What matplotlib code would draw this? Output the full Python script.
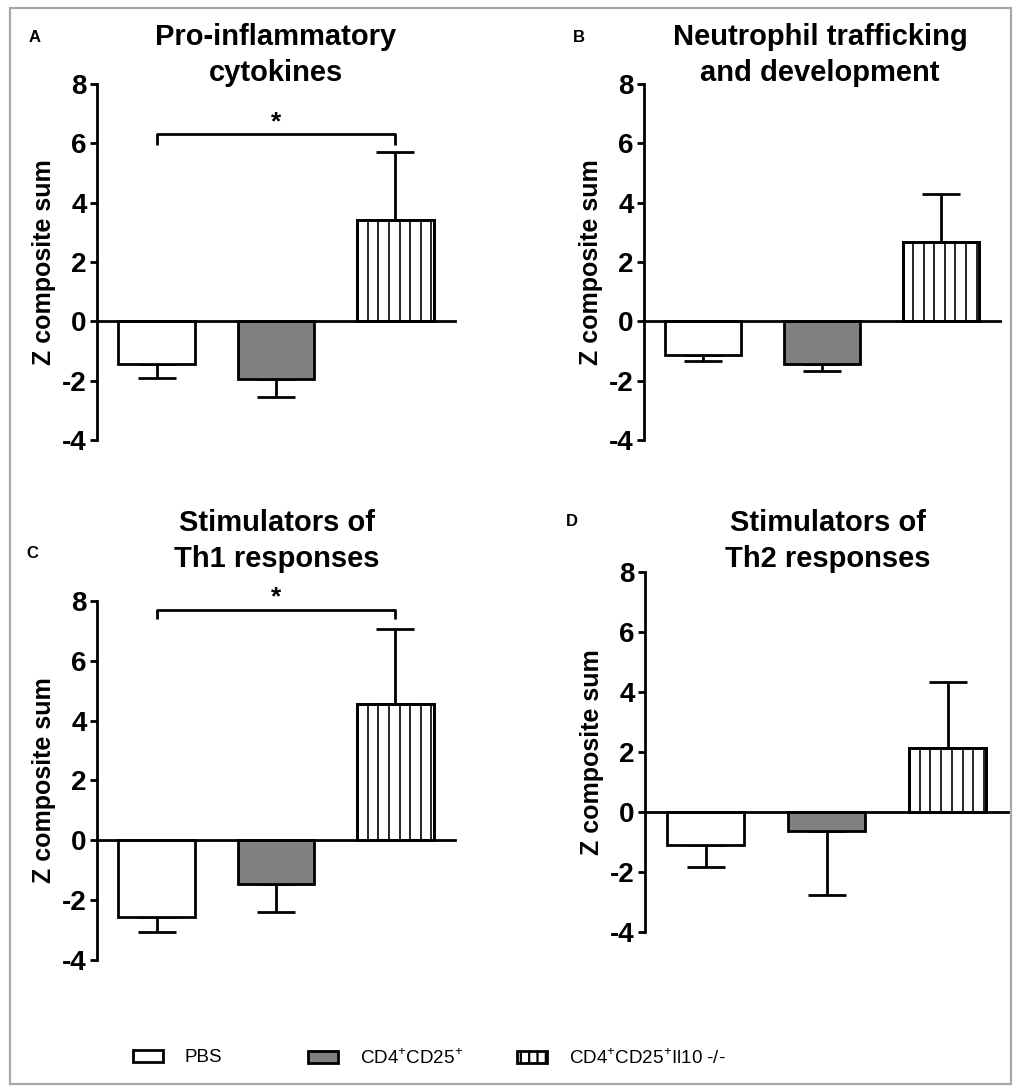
import matplotlib
matplotlib.use("Agg")
import matplotlib.pyplot as plt
from matplotlib.patches import Rectangle, Patch
import numpy as np

plt.rcParams['font.family'] = ['Liberation Sans', 'DejaVu Sans']
plt.rcParams['mathtext.fontset'] = 'custom'
plt.rcParams['mathtext.rm'] = 'Liberation Sans'
plt.rcParams['axes.unicode_minus'] = False
plt.rcParams['hatch.linewidth'] = 1.6

groups = ["PBS", "CD4$^{+}$CD25$^{+}$", "CD4$^{+}$CD25$^{+}$Il10 -/-"]
titles = ["Pro-inflammatory\ncytokines", "Neutrophil trafficking\nand development",
          "Stimulators of\nTh1 responses", "Stimulators of\nTh2 responses"]
letters = ["A", "B", "C", "D"]

means_A = [-1.45, -1.95, 3.40]
err_A = [0.45, 0.60, 2.30]
means_B = [-1.12, -1.43, 2.68]
err_B = [0.21, 0.24, 1.60]
means_C = [-2.57, -1.47, 4.55]
err_C = [0.51, 0.93, 2.50]
means_D = [-1.10, -0.63, 2.15]
err_D = [0.73, 2.14, 2.18]

# significance brackets: (group i, group j, bracket height, drop)
sig_A = (0, 2, 6.30, 0.35)
sig_C = (0, 2, 7.70, 0.30)

yticks = [-4, -2, 0, 2, 4, 6, 8]

W, H = 1014, 1086
fig = plt.figure(figsize=(W / 100, H / 100), dpi=100)

def px_axes(x0, x1, ytop, ybot):
    return [x0 / W, 1 - ybot / H, (x1 - x0) / W, (ybot - ytop) / H]

panels = [
    dict(rect=px_axes(97, 455, 84, 440), means=means_A, err=err_A, sig=sig_A,
         title_xy=(276, 55), letter_xy=(35, 38)),
    dict(rect=px_axes(644, 1000, 84, 440), means=means_B, err=err_B, sig=None,
         title_xy=(820, 55), letter_xy=(579, 38)),
    dict(rect=px_axes(97, 455, 601, 960), means=means_C, err=err_C, sig=sig_C,
         title_xy=(277, 541), letter_xy=(32, 553)),
    dict(rect=px_axes(645, 1008, 572, 932), means=means_D, err=err_D, sig=None,
         title_xy=(828, 541), letter_xy=(572, 522)),
]

fills = ["white", "#808080", "white"]
bw = 0.64
lw = 2.0

for k, p in enumerate(panels):
    ax = fig.add_axes(p["rect"])
    x = np.arange(len(p["means"]))
    means = np.array(p["means"])
    err = np.array(p["err"])
    # error bars (away from zero)
    lower = np.where(means < 0, err, 0)
    upper = np.where(means >= 0, err, 0)
    ax.errorbar(x, means, yerr=[lower, upper], fmt='none', ecolor='black',
                elinewidth=lw, capsize=14, capthick=lw, zorder=1)
    ax.bar(x, means, width=bw, color=fills, edgecolor='black',
           linewidth=lw, zorder=2)
    # vertical stripes in third bar
    i = 2
    n = 7
    step = bw / 7.2
    xs = [x[i] - bw / 2 + step * (j + 1) for j in range(n)]
    ax.vlines(xs, 0, means[i], colors='black', linewidth=1.2, zorder=3)
    ax.bar([x[i]], [means[i]], width=bw, color='none', edgecolor='black',
           linewidth=lw, zorder=4)

    ax.set_xlim(-0.5, 2.5)
    ax.set_ylim(-4, 8)
    ax.set_yticks(yticks)
    ax.set_xticks([])
    for s in ['top', 'right']:
        ax.spines[s].set_visible(False)
    ax.spines['bottom'].set_position(('data', 0))
    ax.spines['bottom'].set_linewidth(lw)
    ax.spines['bottom'].set_zorder(5)
    ax.spines['left'].set_linewidth(lw)
    ax.tick_params(axis='y', direction='out', length=5, width=lw,
                   labelsize=20, pad=2.5)
    for t in ax.get_yticklabels():
        t.set_fontweight('bold')
    ax.set_ylabel("Z composite sum", fontsize=18, fontweight='bold', labelpad=4)
    ax.patch.set_visible(False)

    if p["sig"] is not None:
        gi, gj, h, d = p["sig"]
        ax.plot([x[gi], x[gi], x[gj], x[gj]], [h - d, h, h, h - d], color='black',
                linewidth=lw, clip_on=False, solid_capstyle='butt')
        ax.text((x[gi] + x[gj]) / 2, h + 0.02, "*", ha='center', va='bottom',
                fontsize=19, fontweight='bold', clip_on=False)

    tx, ty = p["title_xy"]
    fig.text(tx / W, 1 - ty / H, titles[k], ha='center', va='center',
             fontsize=21, fontweight='bold', linespacing=1.32)
    lx, ly = p["letter_xy"]
    fig.text(lx / W, 1 - ly / H, letters[k], ha='center', va='center',
             fontsize=12, fontweight='bold')

# legend
leg_x = [133, 308, 517]
hatches = [None, None, '||']
for g, fc, hx, lxp in zip(groups, fills, hatches, leg_x):
    h = Patch(facecolor=fc, edgecolor='black', linewidth=2.0, hatch=hx)
    fig.legend(handles=[h], labels=[g], loc='center left',
               bbox_to_anchor=(lxp / W, 1 - 1058 / H), frameon=False,
               fontsize=13.5, handlelength=1.6, handleheight=0.55,
               handletextpad=1.15, borderpad=0, borderaxespad=0)

# gray frame
fig.add_artist(Rectangle((10 / W, 1 - 1084 / H), (1011 - 10) / W, (1084 - 8) / H,
                         transform=fig.transFigure, fill=False,
                         edgecolor='#a8a8a8', linewidth=1.6))

fig.savefig("out.png", dpi=100)
